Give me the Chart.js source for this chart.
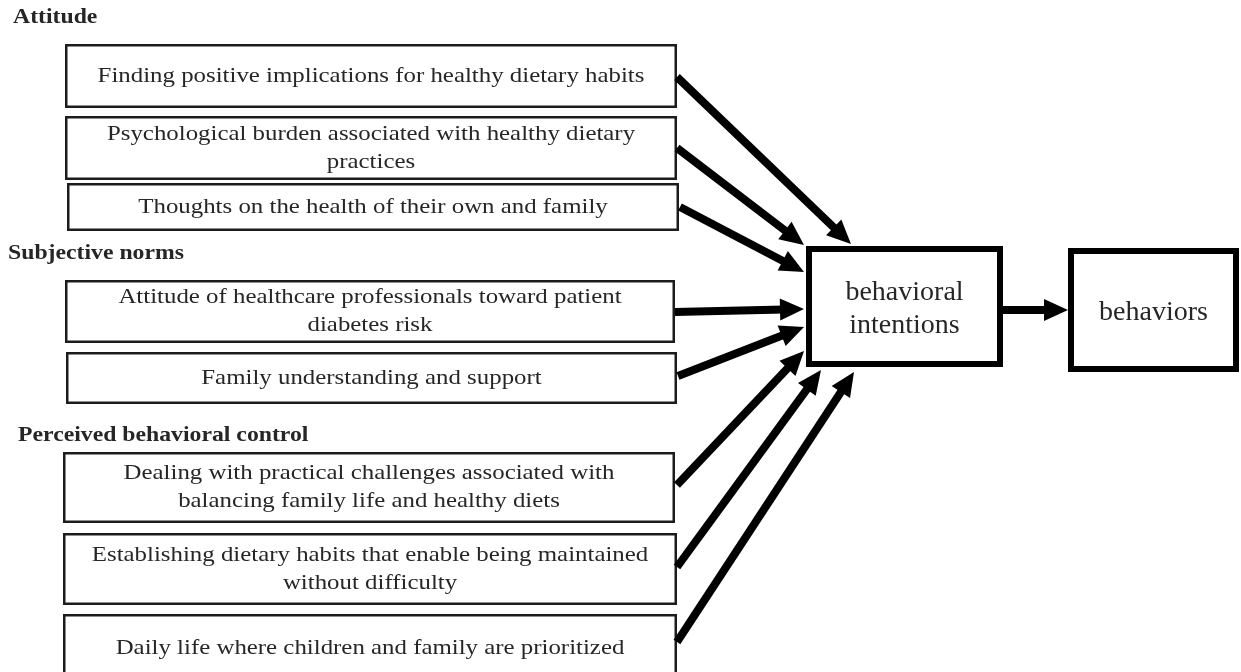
<!DOCTYPE html>
<html>
<head>
<meta charset="utf-8">
<script src="https://cdn.jsdelivr.net/npm/chart.js@4.4.1/dist/chart.umd.min.js"></script>
<style>
  html, body { margin: 0; padding: 0; background: #fff; }
  #diagram { display: block; }
</style>
</head>
<body>
<canvas id="diagram" width="1241" height="672"></canvas>
<script>
// 分組標題
var groupTitles = ["Attitude", "Subjective norms", "Perceived behavioral control"];

// 各因素文字 (每格可多行)
var factorLabels = [
  ["Finding positive implications for healthy dietary habits"],
  ["Psychological burden associated with healthy dietary", "practices"],
  ["Thoughts on the health of their own and family"],
  ["Attitude of healthcare professionals toward patient", "diabetes risk"],
  ["Family understanding and support"],
  ["Dealing with practical challenges associated with", "balancing family life and healthy diets"],
  ["Establishing dietary habits that enable being maintained", "without difficulty"],
  ["Daily life where children and family are prioritized"]
];
var factorGroup = [0, 0, 0, 1, 1, 2, 2, 2];

var outcomeLabels = [["behavioral", "intentions"], ["behaviors"]];

// layout: axis units = page pixels (x 0..1241, y 0..672 top-down)
var titlePos = [[13, 18], [8, 254], [18, 436]];
var factorBox = [
  [65, 44, 677, 108],
  [65, 116, 677, 180],
  [67, 183, 679, 231],
  [65, 280, 675, 343],
  [66, 352, 677, 404],
  [63, 452, 675, 523],
  [63, 533, 677, 605],
  [63, 614, 677, 682]
];
var outcomeBox = [[806, 246, 1003, 367], [1068, 248, 1239, 372]];

// 箭頭 起點 / 終點
var arrowFrom = [
  [677, 77], [677, 148], [680, 207], [675, 312], [678, 376],
  [677, 485], [677, 567], [677, 642], [1003, 310]
];
var arrowTo = [
  [851, 244], [804, 245], [804, 272], [804, 309], [804, 327],
  [804, 351], [821, 370], [854, 372], [1068, 310]
];

const HeadLen = 24;
const HeadHalf = 11;
const Stretch = 1.13; // 原圖文字橫向拉寬
const BoxFont = "22px 'Liberation Serif', 'Times New Roman', serif";
const TitleFont = "bold 21px 'Liberation Serif', 'Times New Roman', serif";
const OutcomeFont = "28px 'Liberation Serif', 'Times New Roman', serif";

function unitVec(a, b) {
  var dx = b[0] - a[0], dy = b[1] - a[1];
  var len = Math.sqrt(dx * dx + dy * dy);
  return [dx / len, dy / len];
}

// 箭身 datasets
function fetchShafts() {
  var datasets = [];
  for (var i = 0; i < arrowFrom.length; i++) {
    var u = unitVec(arrowFrom[i], arrowTo[i]);
    var base = [arrowTo[i][0] - u[0] * (HeadLen - 4), arrowTo[i][1] - u[1] * (HeadLen - 4)];
    datasets.push({
      label: "arrow" + i,
      data: [{ x: arrowFrom[i][0], y: arrowFrom[i][1] }, { x: base[0], y: base[1] }],
      showLine: true,
      borderColor: "#000",
      borderWidth: 8,
      pointRadius: 0,
      borderCapStyle: "butt"
    });
  }
  return datasets;
}

function stretchText(ctx, text, x, y, k) {
  ctx.save();
  ctx.translate(x, y);
  ctx.scale(k, 1);
  ctx.fillText(text, 0, 0);
  ctx.restore();
}

function drawLines(ctx, lines, cx, cy, lh, k) {
  var top = cy - (lines.length - 1) * lh / 2;
  for (var i = 0; i < lines.length; i++) {
    stretchText(ctx, lines[i], cx, top + i * lh, k);
  }
}

var diagramPlugin = {
  id: "diagram",
  beforeDatasetsDraw(chart) {
    var ctx = chart.ctx;
    var sx = chart.scales.x, sy = chart.scales.y;
    ctx.save();
    // 左側因素方框
    ctx.lineWidth = 2.5;
    ctx.strokeStyle = "#1c1c1c";
    ctx.fillStyle = "#fff";
    factorBox.forEach(function (b) {
      var x0 = sx.getPixelForValue(b[0]), y0 = sy.getPixelForValue(b[1]);
      var x1 = sx.getPixelForValue(b[2]), y1 = sy.getPixelForValue(b[3]);
      ctx.fillRect(x0, y0, x1 - x0, y1 - y0);
      ctx.strokeRect(x0 + 1.25, y0 + 1.25, x1 - x0 - 2.5, y1 - y0 - 2.5);
    });
    // 右側結果方框
    ctx.lineWidth = 6;
    ctx.strokeStyle = "#000";
    outcomeBox.forEach(function (b) {
      var x0 = sx.getPixelForValue(b[0]), y0 = sy.getPixelForValue(b[1]);
      var x1 = sx.getPixelForValue(b[2]), y1 = sy.getPixelForValue(b[3]);
      ctx.fillRect(x0, y0, x1 - x0, y1 - y0);
      ctx.strokeRect(x0 + 3, y0 + 3, x1 - x0 - 6, y1 - y0 - 6);
    });
    ctx.restore();
  },
  afterDatasetsDraw(chart) {
    var ctx = chart.ctx;
    var sx = chart.scales.x, sy = chart.scales.y;
    ctx.save();
    // 箭頭
    ctx.fillStyle = "#000";
    for (var i = 0; i < arrowTo.length; i++) {
      var tip = [sx.getPixelForValue(arrowTo[i][0]), sy.getPixelForValue(arrowTo[i][1])];
      var from = [sx.getPixelForValue(arrowFrom[i][0]), sy.getPixelForValue(arrowFrom[i][1])];
      var u = unitVec(from, tip);
      var bx = tip[0] - u[0] * HeadLen, by = tip[1] - u[1] * HeadLen;
      ctx.beginPath();
      ctx.moveTo(tip[0], tip[1]);
      ctx.lineTo(bx - u[1] * HeadHalf, by + u[0] * HeadHalf);
      ctx.lineTo(bx + u[1] * HeadHalf, by - u[0] * HeadHalf);
      ctx.closePath();
      ctx.fill();
    }

    // 文字
    ctx.fillStyle = "#262626";
    ctx.textBaseline = "middle";
    ctx.textAlign = "left";
    ctx.font = TitleFont;
    groupTitles.forEach(function (t, k) {
      stretchText(ctx, t, sx.getPixelForValue(titlePos[k][0]), sy.getPixelForValue(titlePos[k][1]), Stretch);
    });

    ctx.textAlign = "center";
    ctx.font = BoxFont;
    factorLabels.forEach(function (lines, k) {
      var b = factorBox[k];
      var cx = sx.getPixelForValue((b[0] + b[2]) / 2);
      var cy = sy.getPixelForValue((b[1] + b[3]) / 2);
      drawLines(ctx, lines, cx, cy, 28, Stretch);
    });

    ctx.font = OutcomeFont;
    outcomeLabels.forEach(function (lines, k) {
      var b = outcomeBox[k];
      var cx = sx.getPixelForValue((b[0] + b[2]) / 2);
      var cy = sy.getPixelForValue((b[1] + b[3]) / 2 + 3);
      drawLines(ctx, lines, cx, cy, 33, 1);
    });
    ctx.restore();
  }
};

var ctx = document.getElementById("diagram");
var Diagram = new Chart(ctx, {
  type: "scatter",
  data: { datasets: fetchShafts() },
  options: {
    responsive: false,
    animation: false,
    devicePixelRatio: 1,
    layout: { padding: 0 },
    scales: {
      x: { type: "linear", min: 0, max: 1241, display: false },
      y: { type: "linear", min: 0, max: 672, reverse: true, display: false }
    },
    plugins: {
      legend: { display: false },
      tooltip: { enabled: false }
    }
  },
  plugins: [diagramPlugin]
});
</script>
</body>
</html>
